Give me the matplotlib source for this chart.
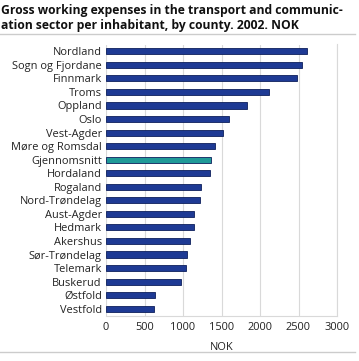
import numpy as np
import matplotlib
matplotlib.use("Agg")
import matplotlib.pyplot as plt
from matplotlib.lines import Line2D

# data (NOK per inhabitant, 2002)
counties = ["Nordland", "Sogn og Fjordane", "Finnmark", "Troms", "Oppland", "Oslo",
            "Vest-Agder", "Møre og Romsdal", "Gjennomsnitt", "Hordaland", "Rogaland",
            "Nord-Trøndelag", "Aust-Agder", "Hedmark", "Akershus", "Sør-Trøndelag",
            "Telemark", "Buskerud", "Østfold", "Vestfold"]
expenses = [2606, 2541, 2484, 2112, 1826, 1592, 1518, 1410, 1361, 1345, 1232,
            1223, 1145, 1142, 1097, 1054, 1045, 971, 642, 629]
xticks = [0, 500, 1000, 1500, 2000, 2500, 3000]

plt.rcParams['font.family'] = ['Open Sans', 'DejaVu Sans']

fig = plt.figure(figsize=(3.59, 3.61), dpi=100)
ax = fig.add_axes([106/359, 1 - 315.5/361, 231/359, 271/361])

ypos = np.arange(len(counties))
colors = ['#1f9a98' if c == "Gjennomsnitt" else '#1e3a94' for c in counties]
ax.barh(ypos, expenses, height=0.45, color=colors, edgecolor='#0d1f5c', linewidth=0.6, zorder=3)

ax.set_ylim(len(counties) - 0.5, -0.5)
ax.set_xlim(0, 3000)
ax.set_yticks(ypos)
ax.set_yticklabels(counties, fontsize=7.9, color='#222222')
ax.set_xticks(xticks)
ax.set_xticklabels([str(t) for t in xticks], fontsize=7.9, color='#222222')
ax.tick_params(length=0, pad=3)
ax.tick_params(axis='x', pad=5)
ax.grid(axis='x', color='#d9d9d9', linewidth=0.8, zorder=0)
for s in ['top', 'left']:
    ax.spines[s].set_visible(False)
for s in ['right', 'bottom']:
    ax.spines[s].set_color('#d9d9d9')
    ax.spines[s].set_linewidth(0.8)
ax.set_xlabel("NOK", fontsize=7.9, color='#222222', labelpad=6)

# title and rules
fig.text(0.003, 1 - 14/361, "Gross working expenses in the transport and communic-",
         fontsize=8.7, fontweight='bold', color='#111111', va='baseline')
fig.text(0.003, 1 - 29.5/361, "ation sector per inhabitant, by county. 2002. NOK",
         fontsize=8.7, fontweight='bold', color='#111111', va='baseline')
fig.add_artist(Line2D([0, 355/359], [1 - 34/361, 1 - 34/361], color='#cccccc', linewidth=1))
fig.add_artist(Line2D([0, 355/359], [1 - 352/361, 1 - 352/361], color='#cccccc', linewidth=1))

fig.savefig("out.png", dpi=100)
